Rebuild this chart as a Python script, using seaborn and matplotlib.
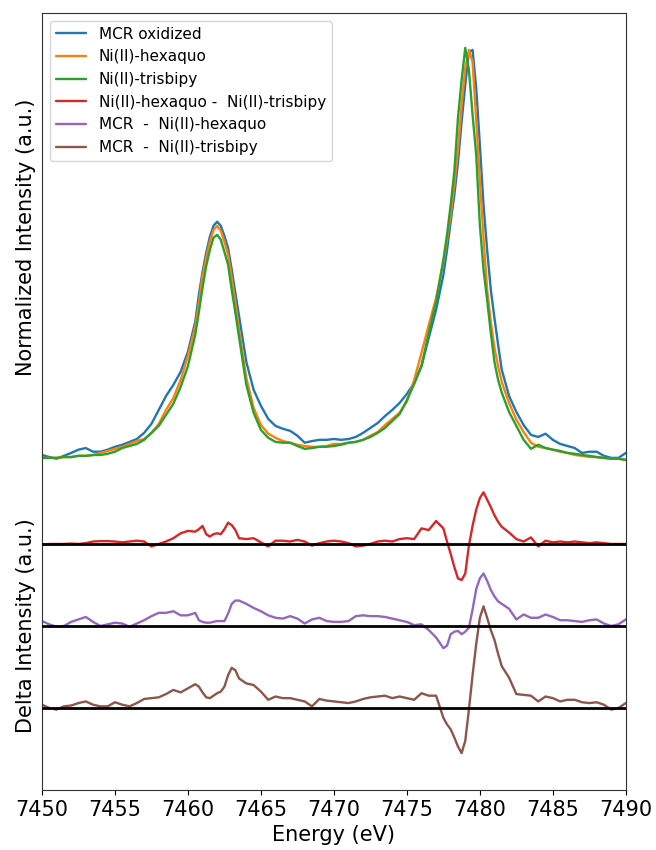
import numpy as np
import pandas as pd
import seaborn as sns
import matplotlib
matplotlib.use("Agg")
import matplotlib.pyplot as plt

# Energy grid (eV): 0.5 eV steps, 0.25 eV steps across the two peaks
energy = [7450, 7450.5, 7451, 7451.5, 7452, 7452.5, 7453, 7453.5, 7454, 7454.5, 7455,
          7455.5, 7456, 7456.5, 7457, 7457.5, 7458, 7458.5, 7459, 7459.5, 7460, 7460.5,
          7460.75, 7461, 7461.25, 7461.5, 7461.75, 7462, 7462.25, 7462.5, 7462.75, 7463,
          7463.25, 7463.5,
          7464, 7464.5, 7465, 7465.5, 7466, 7466.5, 7467, 7467.5, 7468, 7468.5, 7469,
          7469.5, 7470, 7470.5, 7471, 7471.5, 7472, 7472.5, 7473, 7473.5, 7474, 7474.5,
          7475, 7475.5, 7476, 7476.5, 7477, 7477.5,
          7477.75, 7478, 7478.25, 7478.5, 7478.75, 7479, 7479.25, 7479.5, 7479.75, 7480,
          7480.25, 7480.5, 7480.75, 7481, 7481.25, 7481.5,
          7482, 7482.5, 7483, 7483.5, 7484, 7484.5, 7485, 7485.5, 7486, 7486.5, 7487,
          7487.5, 7488, 7488.5, 7489, 7489.5, 7490]

# normalized spectra
mcr_oxidized = [0.007, 0.002, -0.002, 0.005, 0.012, 0.020, 0.024, 0.015, 0.015, 0.020, 0.027,
                0.032, 0.039, 0.046, 0.061, 0.083, 0.117, 0.151, 0.178, 0.210, 0.259, 0.332,
                0.398, 0.454, 0.500, 0.539, 0.566, 0.576, 0.566, 0.541, 0.512, 0.459, 0.402, 0.346,
                0.234, 0.166, 0.127, 0.095, 0.078, 0.071, 0.066, 0.054, 0.037, 0.041, 0.044,
                0.044, 0.046, 0.044, 0.046, 0.051, 0.061, 0.073, 0.085, 0.102, 0.117, 0.134,
                0.156, 0.183, 0.224, 0.293, 0.361, 0.446,
                0.507, 0.576, 0.641, 0.720, 0.820, 0.910, 0.990, 0.995, 0.902, 0.763,
                0.617, 0.507, 0.410, 0.341, 0.276, 0.215,
                0.151, 0.112, 0.080, 0.056, 0.051, 0.059, 0.044, 0.034, 0.029, 0.024, 0.012,
                0.015, 0.015, 0.005, 0.0, 0.0, 0.012]

hexaquo = [0.0, 0.0, 0.0, 0.002, 0.002, 0.005, 0.005, 0.007, 0.012, 0.017, 0.022,
           0.027, 0.034, 0.041, 0.046, 0.061, 0.083, 0.117, 0.146, 0.190, 0.249, 0.320,
           0.378, 0.444, 0.488, 0.527, 0.556, 0.566, 0.554, 0.527, 0.495, 0.439, 0.378, 0.312,
           0.195, 0.122, 0.080, 0.059, 0.049, 0.041, 0.037, 0.032, 0.029, 0.027, 0.027,
           0.029, 0.034, 0.034, 0.037, 0.039, 0.044, 0.054, 0.063, 0.080, 0.095, 0.110,
           0.137, 0.190, 0.256, 0.324, 0.390, 0.478,
           0.532, 0.593, 0.666, 0.751, 0.861, 0.951, 0.995, 0.966, 0.824, 0.678,
           0.537, 0.410, 0.332, 0.268, 0.224, 0.185,
           0.134, 0.093, 0.063, 0.037, 0.027, 0.024, 0.020, 0.015, 0.012, 0.007, 0.005,
           0.002, 0.002, 0.0, -0.002, -0.002, -0.005]

trisbipy = [0.0, 0.0, 0.0, 0.002, 0.002, 0.005, 0.005, 0.007, 0.007, 0.010, 0.015,
            0.024, 0.029, 0.034, 0.044, 0.061, 0.078, 0.105, 0.132, 0.173, 0.224, 0.300,
            0.356, 0.415, 0.468, 0.507, 0.537, 0.544, 0.532, 0.502, 0.471, 0.410, 0.354, 0.295,
            0.178, 0.110, 0.068, 0.049, 0.039, 0.037, 0.037, 0.029, 0.022, 0.024, 0.027,
            0.027, 0.029, 0.032, 0.037, 0.039, 0.044, 0.051, 0.061, 0.073, 0.090, 0.107,
            0.141, 0.180, 0.224, 0.305, 0.380, 0.483,
            0.544, 0.617, 0.698, 0.829, 0.922, 1.000, 0.946, 0.837, 0.739, 0.568,
            0.459, 0.385, 0.305, 0.234, 0.190, 0.159,
            0.112, 0.078, 0.044, 0.022, 0.032, 0.024, 0.020, 0.017, 0.012, 0.010, 0.007,
            0.005, 0.002, 0.0, -0.002, -0.002, -0.005]

# difference spectra
hex_minus_tris = [-0.01, 0.0, 0.0, 0.0, 0.005, 0.0, 0.01, 0.03, 0.035, 0.035, 0.03,
                  0.02, 0.03, 0.04, 0.03, -0.03, 0.0, 0.03, 0.07, 0.13, 0.16, 0.15,
                  0.18, 0.22, 0.12, 0.09, 0.12, 0.13, 0.12, 0.18, 0.26, 0.23, 0.17, 0.07,
                  0.06, 0.07, 0.02, -0.03, 0.04, 0.04, 0.03, 0.05, 0.03, -0.02, 0.01,
                  0.03, 0.04, 0.03, 0.01, -0.03, -0.02, 0.0, 0.03, 0.04, 0.03, 0.06,
                  0.07, 0.06, 0.19, 0.17, 0.28, 0.19,
                  0.03, -0.12, -0.28, -0.42, -0.44, -0.36, -0.02, 0.22, 0.42, 0.56,
                  0.63, 0.54, 0.45, 0.35, 0.27, 0.21,
                  0.14, 0.06, 0.03, 0.08, -0.03, 0.04, 0.02, 0.03, 0.02, 0.03, 0.02,
                  0.01, 0.02, 0.01, 0.0, 0.0, 0.0]

mcr_minus_hex = [0.06, 0.02, -0.01, 0.0, 0.05, 0.08, 0.11, 0.05, 0.0, 0.02, 0.04,
                 0.03, -0.01, 0.03, 0.07, 0.12, 0.16, 0.16, 0.18, 0.13, 0.13, 0.16,
                 0.07, 0.05, 0.04, 0.04, 0.05, 0.06, 0.06, 0.06, 0.15, 0.27, 0.31, 0.31,
                 0.27, 0.22, 0.18, 0.13, 0.10, 0.09, 0.12, 0.09, 0.03, 0.08, 0.10,
                 0.06, 0.05, 0.05, 0.06, 0.12, 0.13, 0.12, 0.12, 0.11, 0.09, 0.07,
                 0.05, 0.01, 0.02, -0.05, -0.14, -0.27,
                 -0.24, -0.10, -0.07, -0.06, -0.10, -0.07, -0.02, 0.20, 0.45, 0.58,
                 0.64, 0.55, 0.44, 0.36, 0.30, 0.27,
                 0.21, 0.08, 0.14, 0.10, 0.10, 0.14, 0.11, 0.07, 0.07, 0.06, 0.05,
                 0.07, 0.08, 0.03, 0.0, 0.02, 0.08]

mcr_minus_tris = [0.04, 0.0, -0.02, 0.02, 0.03, 0.06, 0.08, 0.04, 0.02, 0.02, 0.07,
                  0.04, 0.02, 0.06, 0.11, 0.12, 0.13, 0.17, 0.22, 0.19, 0.24, 0.29,
                  0.26, 0.19, 0.13, 0.12, 0.15, 0.18, 0.20, 0.26, 0.40, 0.49, 0.46, 0.36,
                  0.30, 0.28, 0.20, 0.10, 0.14, 0.12, 0.12, 0.10, 0.08, 0.02, 0.11,
                  0.09, 0.08, 0.07, 0.06, 0.08, 0.11, 0.13, 0.14, 0.15, 0.12, 0.14,
                  0.12, 0.10, 0.18, 0.15, 0.15, -0.12,
                  -0.20, -0.26, -0.36, -0.47, -0.55, -0.40, -0.02, 0.40, 0.78, 1.10,
                  1.24, 1.10, 0.95, 0.83, 0.66, 0.51,
                  0.37, 0.17, 0.16, 0.15, 0.08, 0.14, 0.12, 0.08, 0.10, 0.10, 0.07,
                  0.06, 0.07, 0.04, -0.02, 0.0, 0.06]

spectra = [("MCR oxidized", mcr_oxidized), ("Ni(II)-hexaquo", hexaquo),
           ("Ni(II)-trisbipy", trisbipy)]
deltas = [("Ni(II)-hexaquo -  Ni(II)-trisbipy", hex_minus_tris),
          ("MCR  -  Ni(II)-hexaquo", mcr_minus_hex),
          ("MCR  -  Ni(II)-trisbipy", mcr_minus_tris)]

sns.set_style("ticks")
plt.rcParams['font.family'] = ['DejaVu Sans']
plt.rcParams.update({"text.color": "black", "axes.labelcolor": "black",
                     "xtick.color": "black", "axes.edgecolor": "0.2"})
colors = sns.color_palette("tab10")

fig = plt.figure(figsize=(6.56, 8.5), dpi=100)
ax1 = fig.add_axes([0.064, 0.4565, 0.890, 0.5282])
ax2 = fig.add_axes([0.064, 0.0706, 0.890, 0.3859], sharex=ax1)

for i, (name, vals) in enumerate(spectra):
    sns.lineplot(x=energy, y=vals, ax=ax1, color=colors[i], lw=1.7, label=name)

# stacked difference curves, each on its own zero line
for i, (name, vals) in enumerate(deltas):
    sns.lineplot(x=energy, y=np.array(vals) - i, ax=ax2, color=colors[i + 3], lw=1.7, label=name)
    ax2.axhline(-i, color="black", lw=2, zorder=3)

h1, l1 = ax1.get_legend_handles_labels()
h2, l2 = ax2.get_legend_handles_labels()
ax2.get_legend().remove()
ax1.legend(h1 + h2, l1 + l2, loc="upper left", fontsize=11)

ax1.set_ylim(-0.01, 1.085)
ax2.set_ylim(-3, 1)
ax2.set_xlim(7450, 7490)
ax2.set_xticks(range(7450, 7491, 5))

ax1.spines['bottom'].set_visible(False)
ax2.spines['top'].set_visible(False)
ax1.tick_params(bottom=False, labelbottom=False, left=False, labelleft=False)
ax2.tick_params(left=False, labelleft=False, labelsize=15)

ax1.set_ylabel("Normalized Intensity (a.u.)", fontsize=15)
ax2.set_ylabel("Delta Intensity (a.u.)", fontsize=15)
ax2.set_xlabel("Energy (eV)", fontsize=15)

fig.savefig("out.png", dpi=100)
